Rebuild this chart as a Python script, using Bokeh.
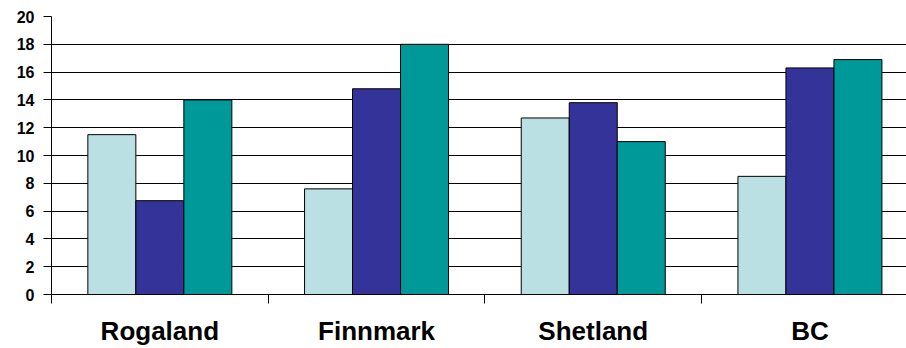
from bokeh.plotting import figure
from bokeh.models import ColumnDataSource, Range1d, FixedTicker
from bokeh.transform import dodge
from bokeh.embed import file_html
from bokeh.resources import INLINE

categories = ["Rogaland", "Finnmark", "Shetland", "BC"]
series_a = [11.5, 7.6, 12.7, 8.5]
series_b = [6.75, 14.8, 13.8, 16.3]
series_c = [14.0, 18.0, 11.0, 16.9]
y_ticks = [0, 2, 4, 6, 8, 10, 12, 14, 16, 18, 20]

colors = ["#BBE0E3", "#333399", "#009999"]

idx = list(range(len(categories)))
source = ColumnDataSource(dict(x=idx, a=series_a, b=series_b, c=series_c))

p = figure(width=906, height=348, output_backend="svg", toolbar_location=None,
           x_range=Range1d(-0.5, 3.4456), y_range=Range1d(0, 20),
           min_border_left=51, min_border_right=0, min_border_top=16,
           min_border_bottom=54)

bw = 0.2215
for off, col, c in zip([-bw, 0, bw], ["a", "b", "c"], colors):
    p.vbar(x=dodge("x", off), top=col, width=bw, bottom=0, source=source,
           fill_color=c, line_color="black", line_width=1)

p.outline_line_color = None
p.background_fill_color = "white"
p.border_fill_color = "white"

p.xgrid.grid_line_color = None
p.ygrid.ticker = FixedTicker(ticks=y_ticks)
p.ygrid.grid_line_color = "black"
p.ygrid.grid_line_width = 1
p.ygrid.level = "underlay"

# y axis
p.yaxis.ticker = FixedTicker(ticks=y_ticks)
p.yaxis.axis_line_color = "black"
p.yaxis.major_tick_line_color = "black"
p.yaxis.major_tick_out = 8
p.yaxis.major_tick_in = 0
p.yaxis.minor_tick_line_color = None
p.yaxis.major_label_text_font = "Liberation Sans"
p.yaxis.major_label_text_font_style = "bold"
p.yaxis.major_label_text_font_size = "16px"
p.yaxis.major_label_text_color = "black"
p.yaxis.major_label_standoff = 9

# x axis
p.xaxis.ticker = FixedTicker(ticks=idx, minor_ticks=[i - 0.5 for i in idx])
p.xaxis.major_label_overrides = {i: n for i, n in zip(idx, categories)}
p.xaxis.axis_line_color = "black"
p.xaxis.major_tick_line_color = None
p.xaxis.major_tick_out = 0
p.xaxis.major_tick_in = 0
p.xaxis.minor_tick_line_color = "black"
p.xaxis.minor_tick_out = 9
p.xaxis.minor_tick_in = 0
p.xaxis.major_label_text_font = "Liberation Sans"
p.xaxis.major_label_text_font_style = "bold"
p.xaxis.major_label_text_font_size = "26px"
p.xaxis.major_label_text_color = "black"
p.xaxis.major_label_standoff = 12

open("out.html", "w").write(file_html(p, INLINE))
